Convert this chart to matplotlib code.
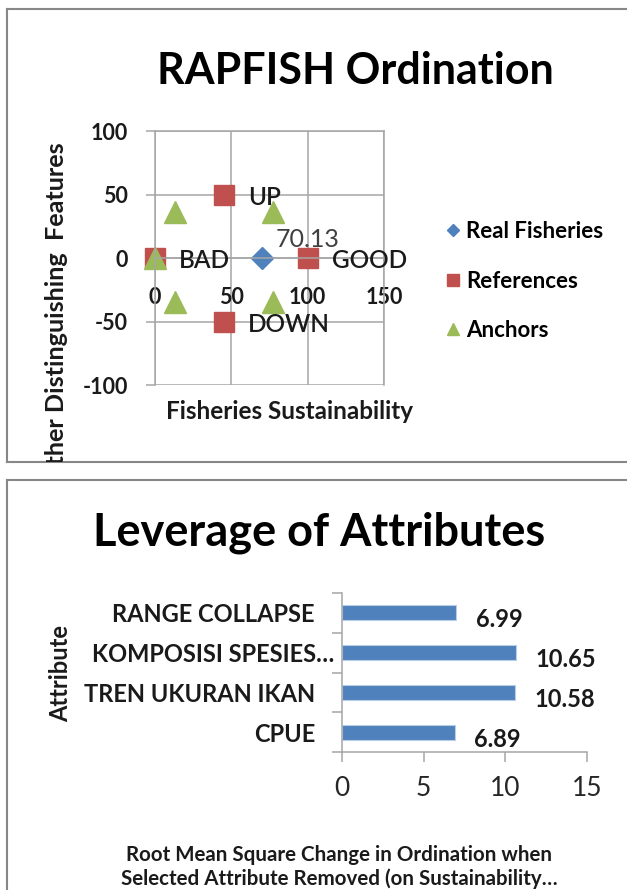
import matplotlib
matplotlib.use("Agg")
import matplotlib.pyplot as plt
from matplotlib.transforms import ScaledTranslation

plt.rcParams['font.family'] = ['Lato', 'DejaVu Sans']
plt.rcParams['axes.unicode_minus'] = False

# RAPFISH ordination points
real_x = [70.13]
real_y = [0]
real_text = ['70.13']
ref_x = [0, 100, 45, 45]
ref_y = [0, 0, 50, -50]
ref_labels = ['BAD', 'GOOD', 'UP', 'DOWN']
anchor_x = [13, 77, 13, 77, 0]
anchor_y = [36, 36, -35, -35, 0]
ord_xticks = [0, 50, 100, 150]
ord_yticks = [-100, -50, 0, 50, 100]

# leverage of attributes
attributes = ['CPUE', 'TREN UKURAN IKAN', 'KOMPOSISI SPESIES\u2026', 'RANGE COLLAPSE']
leverage = [6.89, 10.58, 10.65, 6.99]
lev_xticks = [0, 5, 10, 15]

W, H = 627, 890
GRID = '#a6a6a6'
INK = '#1a1a1a'


def box(l, t, r, b):
    # pixel box -> figure fraction
    return [l / W, 1 - b / H, (r - l) / W, (b - t) / H]


fig = plt.figure(figsize=(W / 100, H / 100), dpi=100)

# chart frames
panel1 = fig.add_axes(box(7, 9, 700, 462), zorder=0)
panel2 = fig.add_axes(box(7, 480, 700, 950), zorder=0)
for p in (panel1, panel2):
    p.set_xticks([])
    p.set_yticks([])
    for s in p.spines.values():
        s.set_color('#878787')
        s.set_linewidth(1.5)

# ---- top chart ----
fig.text(355 / W, 1 - 84 / H, 'RAPFISH Ordination', fontsize=31, fontweight='bold',
         ha='center', va='baseline', color='black')

ax1 = fig.add_axes(box(155, 131, 384, 385), zorder=2)
ax1.set_facecolor('none')
ax1.set_xlim(0, 150)
ax1.set_ylim(-100, 100)
ax1.set_xticks(ord_xticks)
ax1.set_yticks(ord_yticks)
ax1.set_axisbelow(True)
ax1.grid(True, color=GRID, lw=1.1)
ax1.spines['bottom'].set_position(('data', 0))
for s in ax1.spines.values():
    s.set_color(GRID)
    s.set_linewidth(1.1)
ax1.tick_params(axis='y', length=6.5, width=1.1, color=GRID, pad=13, labelsize=15.5, labelcolor=INK)
ax1.tick_params(axis='x', length=0, pad=21, labelsize=15.5, labelcolor=INK)
plt.setp(ax1.get_xticklabels() + ax1.get_yticklabels(), fontweight='bold')

ax1.plot(real_x, real_y, 'D', color='#4f81bd', ms=11, label='Real Fisheries', clip_on=False)
ax1.plot(ref_x, ref_y, 's', color='#c0504d', ms=14.5, label='References', clip_on=False)
ax1.plot(anchor_x, anchor_y, '^', color='#9bbb59', ms=15.5, label='Anchors', clip_on=False)

for x, y, t in zip(ref_x, ref_y, ref_labels):
    ax1.annotate(t, (x, y), xytext=(17.5, -2), textcoords='offset points',
                 fontsize=17.5, fontweight='semibold', ha='left', va='center', color=INK)
for x, y, t in zip(real_x, real_y, real_text):
    ax1.annotate(t, (x, y), xytext=(9.5, 13), textcoords='offset points',
                 fontsize=18, ha='left', va='center', color='#404040')

ax1.set_xlabel('Fisheries Sustainability', fontsize=17.5, fontweight='bold', color=INK)
ax1.xaxis.set_label_coords((289 - 155) / 229, (385 - 411) / 254)
ax1.xaxis.label.set_va('center')

panel1.text(57 / W, 1 - 142 / H, 'Other Distinguishing  Features', transform=fig.transFigure,
            rotation=90, ha='center', va='top', fontsize=18.2, fontweight='bold',
            color=INK, clip_on=True)

ax1.legend(loc='center left', bbox_to_anchor=(446 / W, 1 - 281 / H), bbox_transform=fig.transFigure,
           frameon=False, prop={'weight': 'bold', 'size': 16}, markerscale=0.6,
           handlelength=0.6, handletextpad=0.3, labelspacing=1.28, borderpad=0, borderaxespad=0)

# ---- bottom chart ----
fig.text(319 / W, 1 - 546 / H, 'Leverage of Attributes', fontsize=32.5, fontweight='bold',
         ha='center', va='baseline', color='black')

ax2 = fig.add_axes(box(342, 593, 587, 752), zorder=2)
ax2.set_facecolor('none')
ypos = list(range(len(attributes)))
bars = ax2.barh(ypos, leverage, height=0.38, color='#4f81bd', edgecolor='#b9cde5', lw=0.8)
ax2.set_ylim(-0.5, 3.5)
ax2.set_xlim(0, 15)
ax2.set_xticks(lev_xticks)
ax2.set_yticks(ypos, attributes)
ax2.set_yticks([i - 0.5 for i in range(len(attributes) + 1)], minor=True)
for s in ('top', 'right'):
    ax2.spines[s].set_visible(False)
for s in ('left', 'bottom'):
    ax2.spines[s].set_color(GRID)
    ax2.spines[s].set_linewidth(1.1)
ax2.tick_params(axis='y', which='major', length=0, pad=19.5, labelsize=17, labelcolor=INK)
ax2.tick_params(axis='y', which='minor', length=7.2, width=1.1, color=GRID)
ax2.tick_params(axis='x', length=7.2, width=1.1, color=GRID, pad=10, labelsize=19, labelcolor='#262626')
plt.setp(ax2.get_yticklabels(), fontweight='bold')
# the truncated label sits further right, as in the source chart
komp = ax2.get_yticklabels()[2]
komp.set_transform(komp.get_transform() + ScaledTranslation(19 / 100, 0, fig.dpi_scale_trans))

labels = ax2.bar_label(bars, labels=[f'{v:.2f}' for v in leverage], padding=14,
                       fontsize=17, fontweight='bold', color=INK)
for t in labels:
    t.xyann = (14, -5)

ax2.set_ylabel('Attribute', fontsize=17, fontweight='bold', color=INK)
ax2.yaxis.set_label_coords((61 - 342) / 245, (752 - 674) / 159)
ax2.yaxis.label.set_va('center')
ax2.set_xlabel('Root Mean Square Change in Ordination when\nSelected Attribute Removed (on Sustainability\u2026',
               fontsize=14.8, fontweight='bold', color=INK, linespacing=1.2)
ax2.xaxis.set_label_coords((339 - 342) / 245, (752 - 867) / 159)
ax2.xaxis.label.set_va('center')

fig.savefig('out.png', dpi=100)
